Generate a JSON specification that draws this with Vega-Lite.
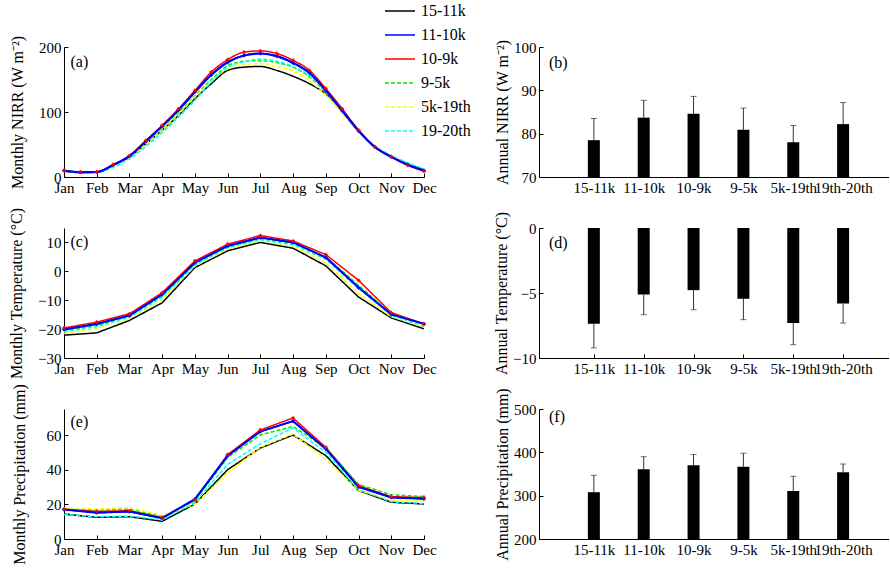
{
  "$schema": "https://vega.github.io/schema/vega-lite/v6.json",
  "padding": {"left": 8, "top": -5, "right": 0, "bottom": 0},
  "background": "white",
  "config": {
    "font": "Liberation Serif",
    "view": {"stroke": null},
    "legend": {"labelFont": "Liberation Serif", "labelFontSize": 16, "labelColor": "black"},
    "axis": {
      "grid": false, "domainColor": "black", "tickColor": "black", "labelColor": "black", "titleColor": "black",
      "labelFont": "Liberation Serif", "titleFont": "Liberation Serif", "labelFontSize": 15, "titleFontSize": 16,
      "titleFontWeight": "normal", "tickSize": -4, "labelPadding": 7, "labelFlush": false, "labelOverlap": false,
      "domainWidth": 1, "tickWidth": 1
    }
  },
  "datasets": {
    "nirr": [
      {"m": 1, "15-11k": 9, "11-10k": 10, "10-9k": 10, "9-5k": 10, "5k-19th": 10, "19-20th": 10},
      {"m": 1.5, "15-11k": 6.7, "11-10k": 7.5, "10-9k": 7.7, "9-5k": 7.5, "5k-19th": 7.5, "19-20th": 7},
      {"m": 2, "15-11k": 7.7, "11-10k": 7.7, "10-9k": 7.7, "9-5k": 8, "5k-19th": 8, "19-20th": 7},
      {"m": 2.5, "15-11k": 18, "11-10k": 18.5, "10-9k": 19, "9-5k": 17, "5k-19th": 17, "19-20th": 15},
      {"m": 3, "15-11k": 31, "11-10k": 32, "10-9k": 33, "9-5k": 30, "5k-19th": 30, "19-20th": 28},
      {"m": 3.5, "15-11k": 51, "11-10k": 55, "10-9k": 56, "9-5k": 51, "5k-19th": 50, "19-20th": 47},
      {"m": 4, "15-11k": 72, "11-10k": 78, "10-9k": 79.5, "9-5k": 73, "5k-19th": 72, "19-20th": 68},
      {"m": 4.5, "15-11k": 95, "11-10k": 103, "10-9k": 105, "9-5k": 98, "5k-19th": 96, "19-20th": 92},
      {"m": 5, "15-11k": 120.5, "11-10k": 130.8, "10-9k": 133, "9-5k": 124.6, "5k-19th": 123, "19-20th": 118},
      {"m": 5.5, "15-11k": 143.5, "11-10k": 157, "10-9k": 161.5, "9-5k": 150, "5k-19th": 147, "19-20th": 146},
      {"m": 6, "15-11k": 164, "11-10k": 176.5, "10-9k": 180.5, "9-5k": 171, "5k-19th": 166.5, "19-20th": 169},
      {"m": 6.5, "15-11k": 169, "11-10k": 187, "10-9k": 192, "9-5k": 178, "5k-19th": 173, "19-20th": 177},
      {"m": 7, "15-11k": 170, "11-10k": 190, "10-9k": 194, "9-5k": 179, "5k-19th": 174.5, "19-20th": 181.5},
      {"m": 7.5, "15-11k": 164, "11-10k": 186, "10-9k": 190, "9-5k": 176, "5k-19th": 170, "19-20th": 178},
      {"m": 8, "15-11k": 155, "11-10k": 175.5, "10-9k": 179.5, "9-5k": 169, "5k-19th": 163, "19-20th": 170},
      {"m": 8.5, "15-11k": 143.5, "11-10k": 160, "10-9k": 164, "9-5k": 154, "5k-19th": 148, "19-20th": 156},
      {"m": 9, "15-11k": 128, "11-10k": 133, "10-9k": 136, "9-5k": 130, "5k-19th": 126, "19-20th": 131},
      {"m": 9.5, "15-11k": 102.5, "11-10k": 102, "10-9k": 105, "9-5k": 100, "5k-19th": 98, "19-20th": 101},
      {"m": 10, "15-11k": 72, "11-10k": 71, "10-9k": 72, "9-5k": 70, "5k-19th": 69, "19-20th": 71},
      {"m": 10.5, "15-11k": 46, "11-10k": 46, "10-9k": 46, "9-5k": 47, "5k-19th": 46, "19-20th": 48},
      {"m": 11, "15-11k": 32, "11-10k": 31, "10-9k": 31, "9-5k": 32, "5k-19th": 32, "19-20th": 33},
      {"m": 11.5, "15-11k": 20.5, "11-10k": 19, "10-9k": 18, "9-5k": 20, "5k-19th": 21, "19-20th": 22},
      {"m": 12, "15-11k": 11.3, "11-10k": 10, "10-9k": 9, "9-5k": 11, "5k-19th": 12, "19-20th": 12}
    ],
    "temp": [
      {"m": 1, "15-11k": -22.1, "11-10k": -20.1, "10-9k": -19.6, "9-5k": -20.5, "5k-19th": -21.5, "19-20th": -20.8},
      {"m": 2, "15-11k": -21.3, "11-10k": -18.2, "10-9k": -17.6, "9-5k": -18.8, "5k-19th": -19.8, "19-20th": -19.2},
      {"m": 3, "15-11k": -17.0, "11-10k": -15.3, "10-9k": -14.7, "9-5k": -15.6, "5k-19th": -16.2, "19-20th": -15.8},
      {"m": 4, "15-11k": -10.9, "11-10k": -8.0, "10-9k": -7.4, "9-5k": -8.5, "5k-19th": -9.8, "19-20th": -9.0},
      {"m": 5, "15-11k": 1.3, "11-10k": 3.0, "10-9k": 3.6, "9-5k": 2.6, "5k-19th": 1.8, "19-20th": 2.2},
      {"m": 6, "15-11k": 7.1, "11-10k": 8.8, "10-9k": 9.4, "9-5k": 8.5, "5k-19th": 7.7, "19-20th": 8.2},
      {"m": 7, "15-11k": 10.0, "11-10k": 11.7, "10-9k": 12.4, "9-5k": 11.2, "5k-19th": 10.6, "19-20th": 11.0},
      {"m": 8, "15-11k": 8.0, "11-10k": 10.0, "10-9k": 10.5, "9-5k": 9.6, "5k-19th": 8.6, "19-20th": 9.2},
      {"m": 9, "15-11k": 1.9, "11-10k": 4.8, "10-9k": 5.8, "9-5k": 5.0, "5k-19th": 3.0, "19-20th": 4.2},
      {"m": 10, "15-11k": -8.9, "11-10k": -5.6, "10-9k": -3.1, "9-5k": -4.8, "5k-19th": -7.8, "19-20th": -6.0},
      {"m": 11, "15-11k": -16.1, "11-10k": -14.9, "10-9k": -14.3, "9-5k": -14.8, "5k-19th": -15.7, "19-20th": -15.2},
      {"m": 12, "15-11k": -19.9, "11-10k": -18.2, "10-9k": -18.2, "9-5k": -18.3, "5k-19th": -19.3, "19-20th": -19.0}
    ],
    "prec": [
      {"m": 1, "15-11k": 14.4, "11-10k": 17.0, "10-9k": 17.3, "9-5k": 17.5, "5k-19th": 18.0, "19-20th": 14.2},
      {"m": 2, "15-11k": 12.5, "11-10k": 15.2, "10-9k": 16.0, "9-5k": 16.8, "5k-19th": 17.2, "19-20th": 12.8},
      {"m": 3, "15-11k": 12.9, "11-10k": 15.8, "10-9k": 16.3, "9-5k": 17.2, "5k-19th": 18.2, "19-20th": 13.2},
      {"m": 4, "15-11k": 10.2, "11-10k": 12.0, "10-9k": 12.5, "9-5k": 13.0, "5k-19th": 13.5, "19-20th": 11.0},
      {"m": 5, "15-11k": 20.2, "11-10k": 23.0, "10-9k": 22.5, "9-5k": 22.0, "5k-19th": 20.0, "19-20th": 21.0},
      {"m": 6, "15-11k": 40.0, "11-10k": 48.0, "10-9k": 48.7, "9-5k": 47.0, "5k-19th": 38.0, "19-20th": 43.0},
      {"m": 7, "15-11k": 52.5, "11-10k": 62.0, "10-9k": 62.9, "9-5k": 60.0, "5k-19th": 53.0, "19-20th": 55.0},
      {"m": 8, "15-11k": 60.0, "11-10k": 68.0, "10-9k": 69.8, "9-5k": 65.0, "5k-19th": 60.5, "19-20th": 64.0},
      {"m": 9, "15-11k": 48.1, "11-10k": 52.0, "10-9k": 52.9, "9-5k": 52.5, "5k-19th": 46.0, "19-20th": 50.0},
      {"m": 10, "15-11k": 27.9, "11-10k": 30.0, "10-9k": 30.8, "9-5k": 31.5, "5k-19th": 28.0, "19-20th": 28.5},
      {"m": 11, "15-11k": 21.2, "11-10k": 24.0, "10-9k": 24.4, "9-5k": 25.5, "5k-19th": 22.5, "19-20th": 21.5},
      {"m": 12, "15-11k": 20.2, "11-10k": 23.2, "10-9k": 24.0, "9-5k": 24.5, "5k-19th": 22.0, "19-20th": 20.5}
    ],
    "annual": [
      {"i": 1, "period": "15-11k", "nirr": 78.5, "nirrHi": 83.5, "temp": -7.36, "tempLo": -9.22, "prec": 308, "precHi": 347},
      {"i": 2, "period": "11-10k", "nirr": 83.7, "nirrHi": 87.7, "temp": -5.12, "tempLo": -6.67, "prec": 361, "precHi": 390},
      {"i": 3, "period": "10-9k", "nirr": 84.6, "nirrHi": 88.6, "temp": -4.78, "tempLo": -6.28, "prec": 370, "precHi": 395},
      {"i": 4, "period": "9-5k", "nirr": 80.9, "nirrHi": 85.9, "temp": -5.45, "tempLo": -7.05, "prec": 367, "precHi": 398},
      {"i": 5, "period": "5k-19th", "nirr": 78.0, "nirrHi": 81.9, "temp": -7.31, "tempLo": -8.99, "prec": 311, "precHi": 345},
      {"i": 6, "period": "19th-20th", "nirr": 82.2, "nirrHi": 87.2, "temp": -5.81, "tempLo": -7.31, "prec": 354, "precHi": 373}
    ]
  },
  "columns": 2,
  "spacing": {"row": 51, "column": 115},
  "bounds": "flush",
  "concat": [
    {
      "width": 360, "height": 130,
      "layer": [
        {
          "data": {"name": "nirr"},
          "transform": [{"fold": ["15-11k", "11-10k", "10-9k", "9-5k", "5k-19th", "19-20th"], "as": ["period", "value"]}],
          "mark": {"type": "line", "interpolate": "monotone", "strokeWidth": 1.5},
          "encoding": {
            "x": {"field": "m", "type": "quantitative", "scale": {"domain": [1, 12], "nice": false, "zero": false},
              "axis": {"title": null, "values": [1,2,3,4,5,6,7,8,9,10,11,12], "tickCount": 12, "labelOverlap": false, "labelExpr": "['','Jan','Feb','Mar','Apr','May','Jun','Jul','Aug','Sep','Oct','Nov','Dec'][datum.value]"}},
            "y": {"field": "value", "type": "quantitative", "scale": {"domain": [0, 200], "nice": false, "zero": false},
              "axis": {"title": "Monthly NIRR (W m⁻²)", "values": [0, 100, 200], "tickCount": 3, "titlePadding": 13}},
            "color": {"field": "period", "type": "nominal",
              "scale": {"domain": ["15-11k", "11-10k", "10-9k", "9-5k", "5k-19th", "19-20th"], "range": ["#000000", "#0000ff", "#ff0000", "#00ee00", "#ffff00", "#00ffff"]},
              "legend": {"title": null, "orient": "none", "legendX": 320, "legendY": -52, "symbolType": "stroke", "symbolSize": 900, "symbolStrokeWidth": 1.5, "labelFont": "Liberation Serif", "labelFontSize": 16, "labelColor": "black", "rowPadding": -2.4, "labelOffset": 5}},
            "strokeDash": {"field": "period", "type": "nominal",
              "scale": {"domain": ["15-11k", "11-10k", "10-9k", "9-5k", "5k-19th", "19-20th"], "range": [[1, 0], [1, 0], [1, 0], [4, 2], [4, 2], [4, 2]]},
              "legend": {"title": null, "orient": "none", "legendX": 320, "legendY": -52, "symbolType": "stroke", "symbolSize": 900, "symbolStrokeWidth": 1.5, "labelFont": "Liberation Serif", "labelFontSize": 16, "labelColor": "black", "rowPadding": -2.4, "labelOffset": 5}}
          }
        },
        {
          "data": {"name": "nirr"},
          "mark": {"type": "line", "interpolate": "monotone", "strokeWidth": 2.2, "color": "#0000ff"},
          "encoding": {"x": {"field": "m", "type": "quantitative"}, "y": {"field": "11-10k", "type": "quantitative"}}
        },
        {
          "data": {"name": "nirr"},
          "mark": {"type": "point", "shape": "diamond", "filled": true, "size": 18, "color": "#0000ff", "opacity": 1},
          "encoding": {"x": {"field": "m", "type": "quantitative"}, "y": {"field": "11-10k", "type": "quantitative"}}
        },
        {
          "data": {"name": "nirr"},
          "mark": {"type": "point", "shape": "cross", "filled": true, "size": 14, "color": "#ff0000", "opacity": 1},
          "encoding": {"x": {"field": "m", "type": "quantitative"}, "y": {"field": "10-9k", "type": "quantitative"}}
        },
        {
          "data": {"values": [{"t": "(a)"}]},
          "mark": {"type": "text", "align": "left", "baseline": "middle", "font": "Liberation Serif", "fontSize": 16, "color": "black"},
          "encoding": {"x": {"datum": 1.2}, "y": {"datum": 177}, "text": {"field": "t"}}
        }
      ]
    },
    {
      "width": 350, "height": 130,
      "layer": [
        {
          "data": {"name": "annual"},
          "mark": {"type": "rule", "color": "#333333", "strokeWidth": 1},
          "encoding": {
            "x": {"field": "i", "type": "quantitative", "scale": {"domain": [0, 6.82], "nice": false, "zero": false},
              "axis": {"title": null, "values": [1,2,3,4,5,6], "tickCount": 6, "labelOverlap": false, "labelExpr": "['','15-11k','11-10k','10-9k','9-5k','5k-19th','19th-20th'][datum.value]"}},
            "y": {"field": "nirr", "type": "quantitative", "scale": {"domain": [70, 100], "nice": false, "zero": false},
              "axis": {"title": "Annual NIRR (W m⁻²)", "values": [70, 80, 90, 100], "tickCount": 4, "titlePadding": 3}},
            "y2": {"field": "nirrHi"}
          }
        },
        {
          "data": {"name": "annual"},
          "mark": {"type": "tick", "orient": "horizontal", "size": 6, "thickness": 1, "color": "#333333"},
          "encoding": {"x": {"field": "i", "type": "quantitative"}, "y": {"field": "nirrHi", "type": "quantitative"}}
        },
        {
          "data": {"name": "annual"},
          "mark": {"type": "bar", "size": 12, "color": "black", "orient": "vertical"},
          "encoding": {"x": {"field": "i", "type": "quantitative"}, "y": {"field": "nirr", "type": "quantitative"}, "y2": {"datum": 70}}
        },
        {
          "data": {"values": [{"t": "(b)"}]},
          "mark": {"type": "text", "align": "left", "baseline": "middle", "font": "Liberation Serif", "fontSize": 16, "color": "black"},
          "encoding": {"x": {"datum": 0.1}, "y": {"datum": 96.3}, "text": {"field": "t"}}
        }
      ]
    },
    {
      "width": 360, "height": 130,
      "layer": [
        {
          "data": {"name": "temp"},
          "transform": [{"fold": ["15-11k", "11-10k", "10-9k", "9-5k", "5k-19th", "19-20th"], "as": ["period", "value"]}],
          "mark": {"type": "line", "strokeWidth": 1.5},
          "encoding": {
            "x": {"field": "m", "type": "quantitative", "scale": {"domain": [1, 12], "nice": false, "zero": false},
              "axis": {"title": null, "values": [1,2,3,4,5,6,7,8,9,10,11,12], "tickCount": 12, "labelOverlap": false, "labelExpr": "['','Jan','Feb','Mar','Apr','May','Jun','Jul','Aug','Sep','Oct','Nov','Dec'][datum.value]"}},
            "y": {"field": "value", "type": "quantitative", "scale": {"domain": [-30, 15], "nice": false, "zero": false},
              "axis": {"title": "Monthly Temperature (°C)", "values": [-30, -20, -10, 0, 10], "tickCount": 5, "titlePadding": 13}},
            "color": {"field": "period", "type": "nominal",
              "scale": {"domain": ["15-11k", "11-10k", "10-9k", "9-5k", "5k-19th", "19-20th"], "range": ["#000000", "#0000ff", "#ff0000", "#00ee00", "#ffff00", "#00ffff"]},
              "legend": {"title": null, "orient": "none", "legendX": 320, "legendY": -52, "symbolType": "stroke", "symbolSize": 900, "symbolStrokeWidth": 1.5, "labelFont": "Liberation Serif", "labelFontSize": 16, "labelColor": "black", "rowPadding": -2.4, "labelOffset": 5}},
            "strokeDash": {"field": "period", "type": "nominal",
              "scale": {"domain": ["15-11k", "11-10k", "10-9k", "9-5k", "5k-19th", "19-20th"], "range": [[1, 0], [1, 0], [1, 0], [4, 2], [4, 2], [4, 2]]},
              "legend": {"title": null, "orient": "none", "legendX": 320, "legendY": -52, "symbolType": "stroke", "symbolSize": 900, "symbolStrokeWidth": 1.5, "labelFont": "Liberation Serif", "labelFontSize": 16, "labelColor": "black", "rowPadding": -2.4, "labelOffset": 5}}
          }
        },
        {
          "data": {"name": "temp"},
          "mark": {"type": "line", "strokeWidth": 2, "color": "#0000ff"},
          "encoding": {"x": {"field": "m", "type": "quantitative"}, "y": {"field": "11-10k", "type": "quantitative"}}
        },
        {
          "data": {"name": "temp"},
          "mark": {"type": "point", "shape": "diamond", "filled": true, "size": 18, "color": "#0000ff", "opacity": 1},
          "encoding": {"x": {"field": "m", "type": "quantitative"}, "y": {"field": "11-10k", "type": "quantitative"}}
        },
        {
          "data": {"name": "temp"},
          "mark": {"type": "point", "shape": "cross", "filled": true, "size": 14, "color": "#ff0000", "opacity": 1},
          "encoding": {"x": {"field": "m", "type": "quantitative"}, "y": {"field": "10-9k", "type": "quantitative"}}
        },
        {
          "data": {"values": [{"t": "(c)"}]},
          "mark": {"type": "text", "align": "left", "baseline": "middle", "font": "Liberation Serif", "fontSize": 16, "color": "black"},
          "encoding": {"x": {"datum": 1.2}, "y": {"datum": 10}, "text": {"field": "t"}}
        }
      ]
    },
    {
      "width": 350, "height": 130,
      "layer": [
        {
          "data": {"name": "annual"},
          "mark": {"type": "rule", "color": "#333333", "strokeWidth": 1},
          "encoding": {
            "x": {"field": "i", "type": "quantitative", "scale": {"domain": [0, 6.82], "nice": false, "zero": false},
              "axis": {"title": null, "values": [1,2,3,4,5,6], "tickCount": 6, "labelOverlap": false, "labelExpr": "['','15-11k','11-10k','10-9k','9-5k','5k-19th','19th-20th'][datum.value]"}},
            "y": {"field": "temp", "type": "quantitative", "scale": {"domain": [-10, 0], "nice": false, "zero": false},
              "axis": {"title": "Annual Temperature (°C)", "values": [-10, -5, 0], "tickCount": 3, "titlePadding": 3}},
            "y2": {"field": "tempLo"}
          }
        },
        {
          "data": {"name": "annual"},
          "mark": {"type": "tick", "orient": "horizontal", "size": 6, "thickness": 1, "color": "#333333"},
          "encoding": {"x": {"field": "i", "type": "quantitative"}, "y": {"field": "tempLo", "type": "quantitative"}}
        },
        {
          "data": {"name": "annual"},
          "mark": {"type": "bar", "size": 12, "color": "black", "orient": "vertical"},
          "encoding": {"x": {"field": "i", "type": "quantitative"}, "y": {"field": "temp", "type": "quantitative"}, "y2": {"datum": 0}}
        },
        {
          "data": {"values": [{"t": "(d)"}]},
          "mark": {"type": "text", "align": "left", "baseline": "middle", "font": "Liberation Serif", "fontSize": 16, "color": "black"},
          "encoding": {"x": {"datum": 0.1}, "y": {"datum": -1.16}, "text": {"field": "t"}}
        }
      ]
    },
    {
      "width": 360, "height": 130,
      "layer": [
        {
          "data": {"name": "prec"},
          "transform": [{"fold": ["15-11k", "11-10k", "10-9k", "9-5k", "5k-19th", "19-20th"], "as": ["period", "value"]}],
          "mark": {"type": "line", "strokeWidth": 1.5},
          "encoding": {
            "x": {"field": "m", "type": "quantitative", "scale": {"domain": [1, 12], "nice": false, "zero": false},
              "axis": {"title": null, "values": [1,2,3,4,5,6,7,8,9,10,11,12], "tickCount": 12, "labelOverlap": false, "labelExpr": "['','Jan','Feb','Mar','Apr','May','Jun','Jul','Aug','Sep','Oct','Nov','Dec'][datum.value]"}},
            "y": {"field": "value", "type": "quantitative", "scale": {"domain": [0, 75], "nice": false, "zero": false},
              "axis": {"title": "Monthly Precipitation (mm)", "values": [0, 20, 40, 60], "tickCount": 4, "titlePadding": 19}},
            "color": {"field": "period", "type": "nominal",
              "scale": {"domain": ["15-11k", "11-10k", "10-9k", "9-5k", "5k-19th", "19-20th"], "range": ["#000000", "#0000ff", "#ff0000", "#00ee00", "#ffff00", "#00ffff"]},
              "legend": {"title": null, "orient": "none", "legendX": 320, "legendY": -52, "symbolType": "stroke", "symbolSize": 900, "symbolStrokeWidth": 1.5, "labelFont": "Liberation Serif", "labelFontSize": 16, "labelColor": "black", "rowPadding": -2.4, "labelOffset": 5}},
            "strokeDash": {"field": "period", "type": "nominal",
              "scale": {"domain": ["15-11k", "11-10k", "10-9k", "9-5k", "5k-19th", "19-20th"], "range": [[1, 0], [1, 0], [1, 0], [4, 2], [4, 2], [4, 2]]},
              "legend": {"title": null, "orient": "none", "legendX": 320, "legendY": -52, "symbolType": "stroke", "symbolSize": 900, "symbolStrokeWidth": 1.5, "labelFont": "Liberation Serif", "labelFontSize": 16, "labelColor": "black", "rowPadding": -2.4, "labelOffset": 5}}
          }
        },
        {
          "data": {"name": "prec"},
          "mark": {"type": "line", "strokeWidth": 2, "color": "#0000ff"},
          "encoding": {"x": {"field": "m", "type": "quantitative"}, "y": {"field": "11-10k", "type": "quantitative"}}
        },
        {
          "data": {"name": "prec"},
          "mark": {"type": "point", "shape": "diamond", "filled": true, "size": 18, "color": "#0000ff", "opacity": 1},
          "encoding": {"x": {"field": "m", "type": "quantitative"}, "y": {"field": "11-10k", "type": "quantitative"}}
        },
        {
          "data": {"name": "prec"},
          "mark": {"type": "point", "shape": "cross", "filled": true, "size": 14, "color": "#ff0000", "opacity": 1},
          "encoding": {"x": {"field": "m", "type": "quantitative"}, "y": {"field": "10-9k", "type": "quantitative"}}
        },
        {
          "data": {"values": [{"t": "(e)"}]},
          "mark": {"type": "text", "align": "left", "baseline": "middle", "font": "Liberation Serif", "fontSize": 16, "color": "black"},
          "encoding": {"x": {"datum": 1.2}, "y": {"datum": 67.3}, "text": {"field": "t"}}
        }
      ]
    },
    {
      "width": 350, "height": 130,
      "layer": [
        {
          "data": {"name": "annual"},
          "mark": {"type": "rule", "color": "#333333", "strokeWidth": 1},
          "encoding": {
            "x": {"field": "i", "type": "quantitative", "scale": {"domain": [0, 6.82], "nice": false, "zero": false},
              "axis": {"title": null, "values": [1,2,3,4,5,6], "tickCount": 6, "labelOverlap": false, "labelExpr": "['','15-11k','11-10k','10-9k','9-5k','5k-19th','19th-20th'][datum.value]"}},
            "y": {"field": "prec", "type": "quantitative", "scale": {"domain": [200, 500], "nice": false, "zero": false},
              "axis": {"title": "Annual Precipitation (mm)", "values": [200, 300, 400, 500], "tickCount": 4, "titlePadding": 3}},
            "y2": {"field": "precHi"}
          }
        },
        {
          "data": {"name": "annual"},
          "mark": {"type": "tick", "orient": "horizontal", "size": 6, "thickness": 1, "color": "#333333"},
          "encoding": {"x": {"field": "i", "type": "quantitative"}, "y": {"field": "precHi", "type": "quantitative"}}
        },
        {
          "data": {"name": "annual"},
          "mark": {"type": "bar", "size": 12, "color": "black", "orient": "vertical"},
          "encoding": {"x": {"field": "i", "type": "quantitative"}, "y": {"field": "prec", "type": "quantitative"}, "y2": {"datum": 200}}
        },
        {
          "data": {"values": [{"t": "(f)"}]},
          "mark": {"type": "text", "align": "left", "baseline": "middle", "font": "Liberation Serif", "fontSize": 16, "color": "black"},
          "encoding": {"x": {"datum": 0.1}, "y": {"datum": 482}, "text": {"field": "t"}}
        }
      ]
    }
  ],
  "resolve": {"scale": {"x": "independent", "y": "independent"}}
}
